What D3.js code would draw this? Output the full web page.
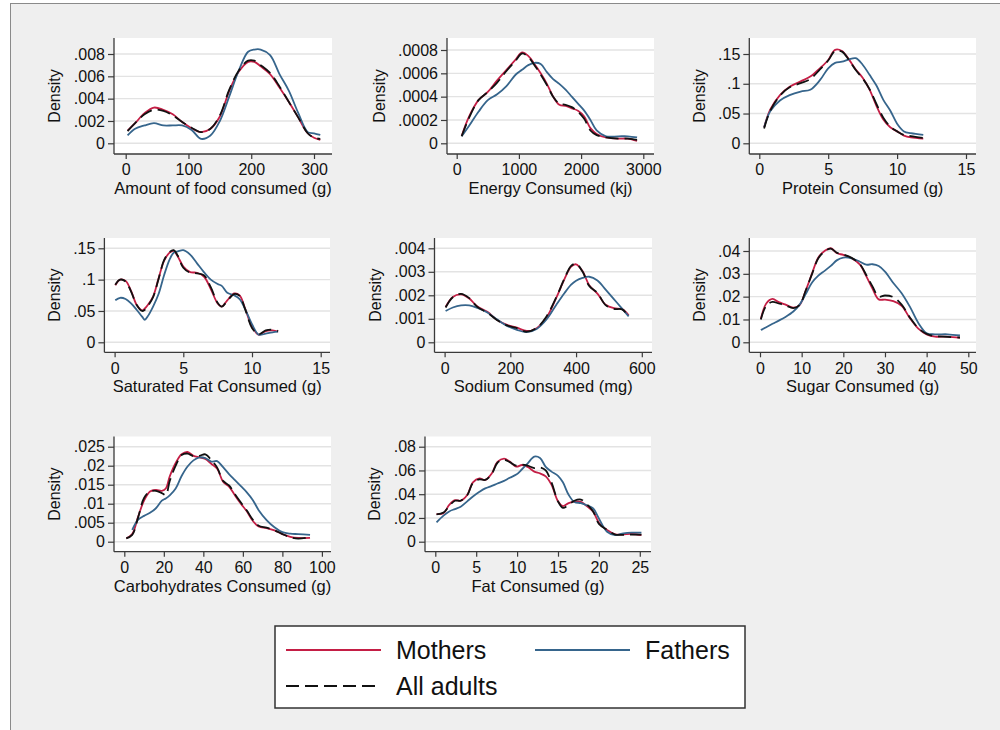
<!DOCTYPE html>
<html>
<head>
<meta charset="utf-8">
<script src="https://cdn.jsdelivr.net/npm/d3@7"></script>
<style>
  body { margin: 0; background: #fff; }
  svg { display: block; font-family: 'Liberation Sans', Arial, sans-serif; }
</style>
</head>
<body>
<svg id="chart" width="1000" height="730"></svg>
<script>
// ---- Data (kernel density estimates) ----
const seriesNames = ['Mothers', 'Fathers', 'All adults'];

// Amount of food consumed (g)
const foodX = [3, 15, 30, 45, 60, 75, 90, 105, 120, 135, 150, 165, 180, 195, 205, 215, 230, 245, 260, 275, 290, 300, 310];
const foodMothers = [.00113, .0018, .0027, .0032, .0030, .0026, .0019, .00135, .0010, .0013, .0024, .0047, .0064, .0073, .0073, .0069, .0062, .0050, .0037, .0023, .0009, .0005, .0003];
const foodFathers = [.0007, .0013, .0016, .0018, .0016, .0016, .0016, .0012, .0004, .0007, .0020, .0042, .0065, .0082, .0084, .0084, .0079, .0062, .0047, .0027, .0010, .0009, .00075];
const foodAll = [.0011, .0018, .0026, .0030, .0029, .0025, .0019, .0014, .0010, .0013, .0025, .0048, .0065, .0074, .0074, .0070, .0063, .0051, .0037, .0023, .0009, .0005, .0004];
const foodXTicks = [0, 100, 200, 300];
const foodYTicks = [0, .002, .004, .006, .008];
const foodYLabels = ['0', '.002', '.004', '.006', '.008'];

// Energy Consumed (kj)
const energyX = [80, 200, 350, 500, 650, 800, 950, 1050, 1150, 1250, 1350, 1450, 1550, 1650, 1750, 1850, 1950, 2050, 2150, 2250, 2400, 2600, 2750, 2900];
const energyMothers = [.000063, .00023, .00037, .00044, .00054, .00063, .00072, .00078, .00075, .00068, .00060, .00051, .00040, .00033, .00032, .00030, .00028, .00023, .00013, .00008, .00005, .00004, .00004, .00002];
const energyFathers = [.00006, .00015, .00027, .00037, .00042, .00049, .00059, .00063, .00067, .00069, .00068, .00061, .00055, .00051, .00046, .00040, .00034, .00028, .00020, .00011, .00006, .00006, .00006, .00005];
const energyAll = [.00006, .00022, .00037, .00044, .00052, .00062, .00071, .00077, .00074, .00067, .00059, .00050, .00040, .00034, .00033, .00031, .00027, .00021, .00011, .00007, .00005, .00004, .00004, .00003];
const energyXTicks = [0, 1000, 2000, 3000];
const energyYTicks = [0, .0002, .0004, .0006, .0008];
const energyYLabels = ['0', '.0002', '.0004', '.0006', '.0008'];

// Protein Consumed (g)
const proteinX = [0.35, 0.8, 1.5, 2.2, 3, 3.7, 4.4, 5, 5.5, 6, 6.5, 7, 7.5, 8, 8.5, 9, 9.5, 10, 10.5, 11, 11.9];
const proteinMothers = [.027, .057, .081, .095, .104, .112, .126, .140, .157, .155, .141, .124, .110, .090, .063, .040, .027, .020, .013, .010, .008];
const proteinFathers = [.027, .054, .072, .081, .087, .090, .106, .126, .135, .137, .141, .143, .132, .115, .097, .073, .055, .033, .020, .017, .014];
const proteinAll = [.025, .055, .080, .094, .101, .108, .124, .139, .155, .154, .140, .123, .109, .091, .066, .043, .028, .020, .014, .012, .009];
const proteinXTicks = [0, 5, 10, 15];
const proteinYTicks = [0, .05, .1, .15];
const proteinYLabels = ['0', '.05', '.1', '.15'];

// Saturated Fat Consumed (g)
const satFatX = [0.05, 0.4, 0.8, 1.2, 1.6, 2.0, 2.2, 2.4, 2.8, 3.2, 3.6, 4.0, 4.3, 4.6, 5.0, 5.5, 6.0, 6.5, 7.0, 7.5, 7.8, 8.2, 8.7, 9.1, 9.5, 10.0, 10.5, 11.0, 11.5, 11.9];
const satFatMothers = [.091, .100, .098, .082, .060, .051, .054, .059, .073, .102, .130, .143, .146, .137, .121, .112, .111, .105, .085, .062, .057, .067, .078, .075, .054, .025, .012, .018, .019, .017];
const satFatFathers = [.067, .071, .069, .062, .052, .041, .036, .041, .057, .077, .107, .132, .143, .145, .147, .140, .126, .112, .100, .093, .090, .079, .075, .069, .053, .029, .012, .014, .016, .017];
const satFatAll = [.092, .100, .097, .081, .060, .050, .052, .057, .072, .101, .131, .144, .147, .138, .119, .111, .110, .107, .088, .063, .057, .066, .077, .074, .053, .023, .013, .019, .020, .018];
const satFatXTicks = [0, 5, 10, 15];
const satFatYTicks = [0, .05, .1, .15];
const satFatYLabels = ['0', '.05', '.1', '.15'];

// Sodium Consumed (mg)
const sodiumX = [3, 25, 50, 75, 100, 130, 160, 190, 220, 250, 280, 310, 340, 365, 385, 400, 420, 440, 465, 490, 515, 540, 560];
const sodiumMothers = [.00150, .00193, .00204, .00186, .00152, .00130, .00095, .00074, .00062, .00048, .00060, .00105, .00190, .00270, .00322, .00332, .00302, .00243, .00207, .00160, .00145, .00141, .00115];
const sodiumFathers = [.00133, .00148, .00157, .00157, .00146, .00127, .00097, .00070, .00053, .00043, .00057, .00097, .00160, .00210, .00245, .00262, .00274, .00279, .00263, .00224, .00184, .00143, .00110];
const sodiumAll = [.00148, .00192, .00206, .00188, .00150, .00126, .00094, .00072, .00060, .00045, .00061, .00110, .00192, .00272, .00325, .00334, .00300, .00240, .00210, .00158, .00142, .00140, .00112];
const sodiumXTicks = [0, 200, 400, 600];
const sodiumYTicks = [0, .001, .002, .003, .004];
const sodiumYLabels = ['0', '.001', '.002', '.003', '.004'];

// Sugar Consumed (g)
const sugarX = [0.2, 1.5, 3, 4.5, 6, 8, 9.5, 11, 12.5, 14, 15.5, 17, 18.5, 20, 22, 24, 25.5, 27, 28.5, 30, 32, 34, 36, 38, 40, 42, 45, 48];
const sugarMothers = [.0102, .0170, .0190, .0176, .0166, .0152, .0163, .0228, .0302, .0372, .0400, .0412, .0390, .0383, .0368, .0340, .0290, .0235, .0188, .0187, .0180, .0160, .0105, .0060, .0035, .0025, .0025, .0020];
const sugarFathers = [.0054, .0066, .0081, .0095, .0110, .0135, .0165, .0212, .0262, .0292, .0313, .0335, .0360, .0371, .0368, .0353, .0340, .0342, .0334, .0310, .0260, .0215, .0155, .0085, .0040, .0035, .0035, .0030];
const sugarAll = [.0100, .0160, .0177, .0170, .0163, .0150, .0163, .0228, .0300, .0368, .0398, .0410, .0392, .0385, .0370, .0342, .0295, .0245, .0200, .0205, .0198, .0165, .0108, .0062, .0037, .0027, .0024, .0021];
const sugarXTicks = [0, 10, 20, 30, 40, 50];
const sugarYTicks = [0, .01, .02, .03, .04];
const sugarYLabels = ['0', '.01', '.02', '.03', '.04'];

// Carbohydrates Consumed (g)
const carbX = [1, 4, 7, 10, 13, 16, 19, 21, 23, 26, 29, 32, 35, 38, 41, 44, 47, 50, 53, 56, 59, 62, 65, 68, 72, 76, 80, 84, 88, 94];
const carbMothers = [.0009, .0020, .0066, .0108, .0132, .0136, .0134, .0140, .0172, .0207, .0230, .0236, .0226, .0222, .0218, .0205, .0192, .0158, .0145, .0122, .0100, .0080, .0055, .0040, .0036, .0030, .0020, .0013, .0010, .0010];
const carbFathers = [null, .0031, .0058, .0068, .0076, .0088, .0108, .0114, .0122, .0140, .0173, .0198, .0214, .0222, .0220, .0211, .0212, .0196, .0178, .0162, .0146, .0130, .0110, .0083, .0057, .0038, .0025, .0021, .0020, .0018];
const carbAll = [.0009, .0018, .0064, .0115, .0132, .0134, .0128, .0123, .0160, .0200, .0228, .0232, .0225, .0226, .0230, .0215, .0195, .0160, .0148, .0125, .0103, .0082, .0058, .0042, .0037, .0030, .0020, .0012, .0008, .0012];
const carbXTicks = [0, 20, 40, 60, 80, 100];
const carbYTicks = [0, .005, .01, .015, .02, .025];
const carbYLabels = ['0', '.005', '.01', '.015', '.02', '.025'];

// Fat Consumed (g)
const fatX = [0.15, 1, 1.7, 2.4, 3.1, 3.9, 4.6, 5.4, 6.1, 6.9, 7.6, 8.4, 9.1, 9.9, 10.6, 11.3, 12.1, 12.8, 13.5, 14.2, 15, 15.6, 16.3, 17, 17.8, 18.6, 19.3, 20, 21, 22, 23, 24, 25.2];
const fatMothers = [.0233, .0240, .0310, .0350, .0345, .0393, .0500, .0533, .0520, .0575, .0672, .0700, .0675, .0632, .0646, .0630, .0590, .0575, .0550, .0480, .0340, .0300, .0325, .0337, .0335, .0295, .0253, .0160, .0098, .0062, .0062, .0065, .0056];
const fatFathers = [.0163, .0220, .0255, .0275, .0295, .0340, .0380, .0420, .0449, .0470, .0490, .0512, .0539, .0565, .0610, .0660, .0716, .0705, .0630, .0590, .0555, .0500, .0395, .0335, .0325, .0305, .0281, .0196, .0084, .0056, .0070, .0076, .0076];
const fatAll = [.0230, .0245, .0300, .0345, .0345, .0390, .0495, .0525, .0520, .0570, .0665, .0690, .0670, .0640, .0650, .0640, .0620, .0625, .0600, .0500, .0340, .0285, .0310, .0345, .0355, .0310, .0255, .0150, .0100, .0060, .0058, .0060, .0060];
const fatXTicks = [0, 5, 10, 15, 20, 25];
const fatYTicks = [0, .02, .04, .06, .08];
const fatYLabels = ['0', '.02', '.04', '.06', '.08'];

// ---- Styles ----
const colors = ['#c41e45', '#36658c', '#111111'];
const dashes = [null, null, '13,6'];
const bgColor = '#efefef';
const gridColor = '#e3e3e3';
const axisColor = '#3a3a3a';
const fontFamily = "'Liberation Sans', Arial, sans-serif";

// Panel boxes: left = y axis, bottom = x axis line, x0/x1 = pixel of first/last x tick, y0/y1 = pixel of 0 / top y tick
const panels = [
  { title: 'Amount of food consumed (g)', x: foodX, series: [foodMothers, foodFathers, foodAll],
    xTicks: foodXTicks, yTicks: foodYTicks, yLabels: foodYLabels,
    box: { left: 114, right: 332, top: 38, bottom: 154, x0: 125.7, x1: 314, y0: 143.3, y1: 54 } },
  { title: 'Energy Consumed (kj)', x: energyX, series: [energyMothers, energyFathers, energyAll],
    xTicks: energyXTicks, yTicks: energyYTicks, yLabels: energyYLabels,
    box: { left: 447, right: 654, top: 38, bottom: 154, x0: 456.7, x1: 643.3, y0: 143.3, y1: 50 } },
  { title: 'Protein Consumed (g)', x: proteinX, series: [proteinMothers, proteinFathers, proteinAll],
    xTicks: proteinXTicks, yTicks: proteinYTicks, yLabels: proteinYLabels,
    box: { left: 749.3, right: 976, top: 38, bottom: 154, x0: 759.3, x1: 966, y0: 143.3, y1: 54 } },
  { title: 'Saturated Fat Consumed (g)', x: satFatX, series: [satFatMothers, satFatFathers, satFatAll],
    xTicks: satFatXTicks, yTicks: satFatYTicks, yLabels: satFatYLabels,
    box: { left: 104.4, right: 330, top: 238, bottom: 352.3, x0: 114.6, x1: 320.7, y0: 342.3, y1: 248.3 } },
  { title: 'Sodium Consumed (mg)', x: sodiumX, series: [sodiumMothers, sodiumFathers, sodiumAll],
    xTicks: sodiumXTicks, yTicks: sodiumYTicks, yLabels: sodiumYLabels,
    box: { left: 434.5, right: 652, top: 238, bottom: 352.3, x0: 444.6, x1: 641.8, y0: 342.3, y1: 248.3 } },
  { title: 'Sugar Consumed (g)', x: sugarX, series: [sugarMothers, sugarFathers, sugarAll],
    xTicks: sugarXTicks, yTicks: sugarYTicks, yLabels: sugarYLabels,
    box: { left: 749.3, right: 976, top: 238, bottom: 352.3, x0: 760, x1: 968.3, y0: 342.3, y1: 251 } },
  { title: 'Carbohydrates Consumed (g)', x: carbX, series: [carbMothers, carbFathers, carbAll],
    xTicks: carbXTicks, yTicks: carbYTicks, yLabels: carbYLabels,
    box: { left: 114, right: 331, top: 436.5, bottom: 551.7, x0: 124.3, x1: 321.9, y0: 541.7, y1: 446.7 } },
  { title: 'Fat Consumed (g)', x: fatX, series: [fatMothers, fatFathers, fatAll],
    xTicks: fatXTicks, yTicks: fatYTicks, yLabels: fatYLabels,
    box: { left: 425, right: 651, top: 436.5, bottom: 551.7, x0: 435.3, x1: 639.8, y0: 541.7, y1: 446.7 } }
];

const svg = d3.select('#chart');

// Background + outer frame
svg.append('rect')
  .attr('width', 1000).attr('height', 730)
  .attr('fill', '#fff');
svg.append('rect')
  .attr('x', 10.5).attr('y', 3.5)
  .attr('width', 995).attr('height', 735)
  .attr('fill', bgColor)
  .attr('stroke', '#8a8a8a')
  .attr('stroke-width', 1);

panels.forEach(p => drawPanel(p));
drawLegend();

function drawPanel(p) {
  const b = p.box;
  const x = d3.scaleLinear()
    .domain([p.xTicks[0], p.xTicks[p.xTicks.length - 1]])
    .range([b.x0, b.x1]);
  const y = d3.scaleLinear()
    .domain([0, p.yTicks[p.yTicks.length - 1]])
    .range([b.y0, b.y1]);

  const g = svg.append('g');

  // Plot region
  g.append('rect')
    .attr('x', b.left).attr('y', b.top)
    .attr('width', b.right - b.left).attr('height', b.bottom - b.top)
    .attr('fill', '#fff');

  // Gridlines
  g.append('g')
    .selectAll('line')
    .data(p.yTicks)
    .join('line')
    .attr('x1', b.left).attr('x2', b.right)
    .attr('y1', d => y(d)).attr('y2', d => y(d))
    .attr('stroke', gridColor)
    .attr('stroke-width', 1.4);

  // Curves
  const line = d3.line()
    .defined(d => d[1] != null)
    .x(d => x(d[0]))
    .y(d => y(d[1]))
    .curve(d3.curveCatmullRom.alpha(0.5));

  p.series.forEach((vals, i) => {
    g.append('path')
      .datum(p.x.map((v, j) => [v, vals[j]]))
      .attr('d', line)
      .attr('fill', 'none')
      .attr('stroke', colors[i])
      .attr('stroke-width', 1.8)
      .attr('stroke-dasharray', dashes[i])
      .attr('stroke-linejoin', 'round');
  });

  // Y axis
  const yAxis = g.append('g')
    .attr('transform', `translate(${b.left},0)`)
    .call(d3.axisLeft(y)
      .tickValues(p.yTicks)
      .tickFormat((d, i) => p.yLabels[i])
      .tickSize(6)
      .tickPadding(3));
  yAxis.select('.domain').remove();
  yAxis.selectAll('.tick line').attr('stroke', axisColor).attr('stroke-width', 1.2);
  yAxis.selectAll('.tick text')
    .attr('font-family', fontFamily)
    .attr('font-size', 16)
    .attr('fill', '#111');
  g.append('line')
    .attr('x1', b.left).attr('x2', b.left)
    .attr('y1', b.top).attr('y2', b.bottom)
    .attr('stroke', axisColor).attr('stroke-width', 1.3);

  // X axis
  const xAxis = g.append('g')
    .attr('transform', `translate(0,${b.bottom})`)
    .call(d3.axisBottom(x)
      .tickValues(p.xTicks)
      .tickFormat(d3.format('d'))
      .tickSize(5)
      .tickPadding(5));
  xAxis.select('.domain').remove();
  xAxis.selectAll('.tick line').attr('stroke', axisColor).attr('stroke-width', 1.2);
  xAxis.selectAll('.tick text')
    .attr('font-family', fontFamily)
    .attr('font-size', 16)
    .attr('fill', '#111');
  g.append('line')
    .attr('x1', b.left).attr('x2', b.right)
    .attr('y1', b.bottom).attr('y2', b.bottom)
    .attr('stroke', axisColor).attr('stroke-width', 1.3);

  // Axis titles
  let maxW = 0;
  yAxis.selectAll('.tick text').each(function() {
    maxW = Math.max(maxW, this.getComputedTextLength());
  });
  const densityX = b.left - 9 - maxW - 19;
  g.append('text')
    .attr('transform', `translate(${densityX},${(b.top + b.bottom) / 2}) rotate(-90)`)
    .attr('text-anchor', 'middle')
    .attr('dy', '0.35em')
    .attr('font-size', 16)
    .attr('fill', '#111')
    .text('Density');

  g.append('text')
    .attr('x', (b.left + b.right) / 2)
    .attr('y', b.bottom + 40)
    .attr('text-anchor', 'middle')
    .attr('font-size', 16.5)
    .attr('fill', '#111')
    .text(p.title);
}

function drawLegend() {
  const lg = svg.append('g');
  lg.append('rect')
    .attr('x', 275).attr('y', 626)
    .attr('width', 470).attr('height', 82)
    .attr('fill', '#fff')
    .attr('stroke', '#333')
    .attr('stroke-width', 1.5);

  const items = [
    { lineX: 286, textX: 396, y: 650 },
    { lineX: 535, textX: 645, y: 650 },
    { lineX: 286, textX: 396, y: 686 }
  ];
  seriesNames.forEach((name, i) => {
    const it = items[i];
    lg.append('line')
      .attr('x1', it.lineX).attr('x2', it.lineX + 95)
      .attr('y1', it.y).attr('y2', it.y)
      .attr('stroke', colors[i])
      .attr('stroke-width', 2)
      .attr('stroke-dasharray', dashes[i]);
    lg.append('text')
      .attr('x', it.textX)
      .attr('y', it.y + 9)
      .attr('font-size', 25)
      .attr('fill', '#111')
      .text(name);
  });
}
</script>
</body>
</html>
